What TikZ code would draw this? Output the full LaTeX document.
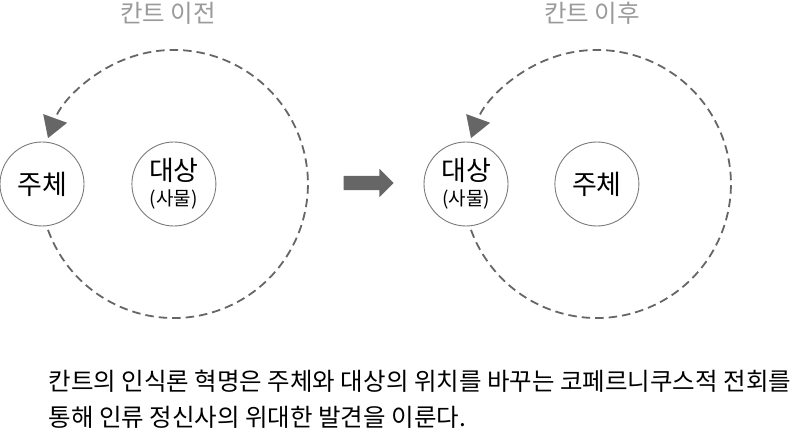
\documentclass[tikz,border=0pt]{standalone}
\usepackage{fontspec}
\setmainfont{Noto Sans CJK KR}
\usepackage{xcolor}
\usetikzlibrary{arrows.meta, positioning, calc, shapes.arrows}

\definecolor{darkgrey}{HTML}{666666}
\definecolor{lightgrey}{HTML}{9A9A9A}
\definecolor{ringgrey}{HTML}{7A7A7A}

\begin{document}
\begin{tikzpicture}[
    x=1pt, y=1pt,
    circ/.style={
        circle,
        draw=ringgrey,
        line width=0.9pt,
        minimum size=84pt,
        inner sep=0pt,
        align=center,
        font=\fontsize{27}{30}\selectfont
    },
    title/.style={text=lightgrey, font=\fontsize{24.5}{26}\selectfont},
    orbit/.style={
        draw=darkgrey,
        line width=1.8pt,
        dash pattern=on 8.5pt off 5pt,
        -{Triangle[length=21pt,width=25pt]}
    },
    bigarrow/.style={
        single arrow,
        fill=darkgrey,
        inner xsep=0pt,
        inner ysep=7pt,
        single arrow head extend=7pt,
        minimum height=50pt
    }
]
\useasboundingbox (0,0) rectangle (800,434);

% before Kant
\node (before) [title] at (168,421) {칸트 이전};
\node (subj1) [circ] at (42,250) {주체};
\node (obj1) [circ, right=47pt of subj1] {\fontsize{27}{28}\selectfont 대상\\[-5pt]\fontsize{19}{20}\selectfont (사물)};

% turn
\node (shift) [bigarrow] at (365,251) {};

% after Kant
\node (after) [title] at (592,421) {칸트 이후};
\node (obj2) [circ] at (466,250) {\fontsize{27}{28}\selectfont 대상\\[-5pt]\fontsize{19}{20}\selectfont (사물)};
\node (subj2) [circ, right=46pt of obj2] {주체};

\draw [orbit] ($(obj1)+(-160:134)$) arc[start angle=-160, end angle=160, radius=134];
\draw [orbit] ($(subj2)+(-160:134)$) arc[start angle=-160, end angle=160, radius=134];

\node (caption) [anchor=west, align=left, font=\fontsize{24.5}{36}\selectfont] at (45,35)
    {칸트의 인식론 혁명은 주체와 대상의 위치를 바꾸는 코페르니쿠스적 전회를\\통해 인류 정신사의 위대한 발견을 이룬다.};

\end{tikzpicture}
\end{document}
